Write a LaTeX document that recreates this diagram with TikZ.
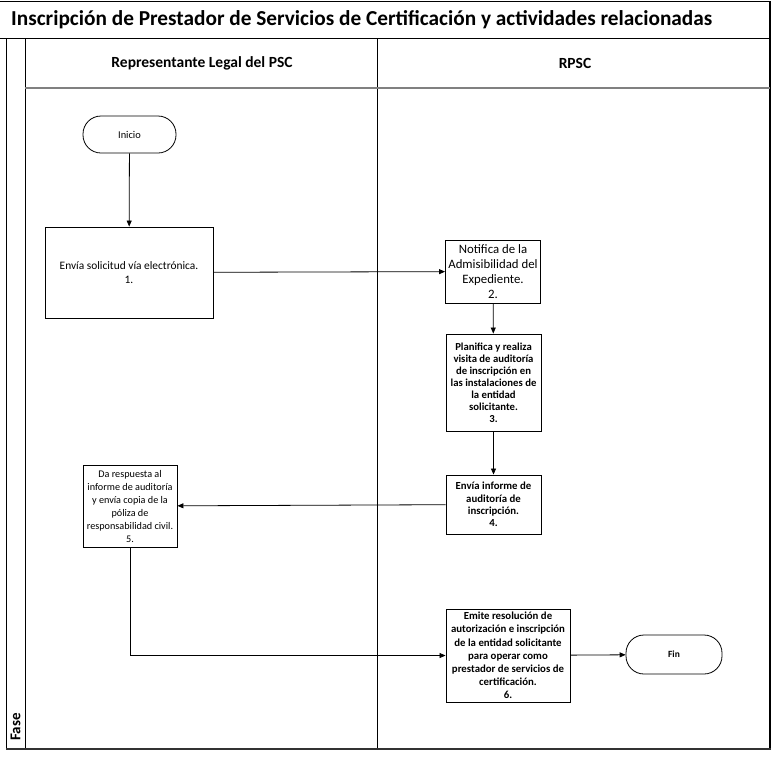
\documentclass[tikz,border=0pt]{standalone}
\usepackage{fontspec}
\setmainfont{Carlito}
\usetikzlibrary{arrows.meta}
\begin{document}
\begin{tikzpicture}[x=1pt,y=-1pt,
  frame/.style={draw=black,line width=1pt},
  procbox/.style={draw=black,line width=0.9pt,rectangle,inner sep=0pt,align=center},
  regtext/.style={font=\fontsize{11.4}{14}\selectfont},
  boldtext/.style={font=\bfseries\fontsize{10.8}{12.3}\selectfont},
  terminal/.style={draw=black,line width=0.8pt,rectangle,rounded corners=18pt,inner sep=0pt,align=center},
  flow/.style={draw=black,line width=0.8pt,-{Triangle[length=6pt,width=5pt]}}
]
\useasboundingbox (0,0) rectangle (773,756);
% frame
\draw[frame] (0,1.5) -- (770,1.5);
\draw[frame,line width=1.2pt] (0,38.5) -- (770,38.5);
\draw[frame] (6,38.5) -- (6,749);
\draw[frame] (25,38.5) -- (25,749);
\draw[frame] (377,38.5) -- (377,749);
\draw[frame,line width=2pt] (770,1) -- (770,750);
\draw[frame,line width=2pt,draw=black!80] (6,749) -- (771,749);
\draw[draw=black!50,line width=2pt] (25,88) -- (770,88);
% texts
\node[anchor=west,font=\bfseries\fontsize{21.3}{24}\selectfont,inner sep=0pt] (title) at (11,20) {Inscripción de Prestador de Servicios de Certificación y actividades relacionadas};
\node[font=\bfseries\fontsize{15.5}{18}\selectfont] (lane1) at (202,63) {Representante Legal del PSC};
\node[font=\bfseries\fontsize{15.5}{18}\selectfont] (lane2) at (575,63) {RPSC};
\node[font=\bfseries\fontsize{15}{17}\selectfont,rotate=90] (fase) at (15.5,727) {Fase};
% nodes
\node[terminal,minimum width=93pt,minimum height=37pt,font=\fontsize{10.4}{12}\selectfont] (inicio) at (129.5,134.5) {Inicio};
\node[procbox,minimum width=168pt,minimum height=91pt,regtext] (b1) at (129,272.5) {Envía solicitud vía electrónica.\\1.};
\node[procbox,minimum width=95pt,minimum height=63pt,font=\fontsize{12.8}{15}\selectfont] (b2) at (493,271.5) {Notifica de la\\Admisibilidad del\\Expediente.\\2.};
\node[procbox,minimum width=95pt,minimum height=97pt,font=\bfseries\fontsize{10.7}{12}\selectfont] (b3) at (493.5,382.5) {Planifica y realiza\\visita de auditoría\\de inscripción en\\las instalaciones de\\la entidad\\solicitante.\\3.};
\node[procbox,minimum width=95pt,minimum height=59pt,boldtext] (b4) at (493.5,504.5) {Envía informe de\\auditoría de\\inscripción.\\4.};
\node[procbox,minimum width=94pt,minimum height=82pt,font=\fontsize{10.2}{13}\selectfont] (b5) at (130,506) {Da respuesta al\\informe de auditoría\\y envía copia de la\\póliza de\\responsabilidad civil.\\5.};
\node[procbox,minimum width=124pt,minimum height=93pt,font=\bfseries\fontsize{10.8}{13.2}\selectfont] (b6) at (508,655.5) {Emite resolución de\\autorización e inscripción\\de la entidad solicitante\\para operar como\\prestador de servicios de\\certificación.\\6.};
\node[terminal,minimum width=96pt,minimum height=39pt,font=\bfseries\fontsize{9.5}{12}\selectfont] (fin) at (674,654.5) {Fin};
% connectors
\draw[flow] (inicio) -- (b1);
\draw[flow] (b1) -- (b2);
\draw[flow] (b2) -- (b3);
\draw[flow] (b3) -- (b4);
\draw[flow] (b4) -- (b5);
\draw[flow] (b5.south) |- (b6.west);
\draw[flow] (b6) -- (fin);
\end{tikzpicture}
\end{document}
